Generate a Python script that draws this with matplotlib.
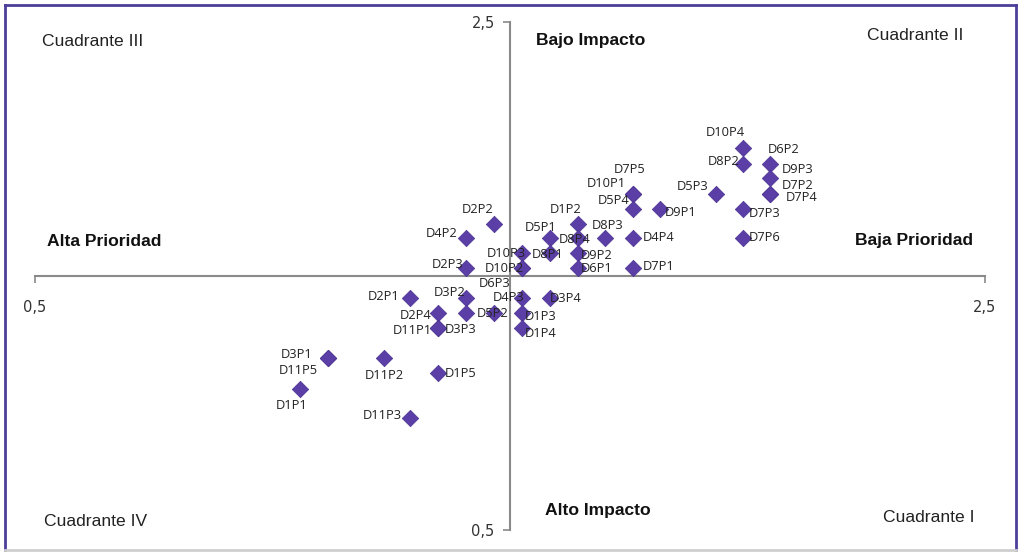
import matplotlib.pyplot as plt
from matplotlib.lines import Line2D

# Datos: etiqueta, prioridad (x), impacto (y)
labels = ['D10P4', 'D8P2', 'D6P2', 'D9P3', 'D7P2', 'D7P4', 'D5P3', 'D7P3', 'D7P6',
          'D7P5', 'D10P1', 'D5P4', 'D9P1', 'D1P2', 'D8P3', 'D4P4', 'D5P1', 'D8P4',
          'D10P3', 'D8P1', 'D9P2', 'D10P2', 'D6P3', 'D6P1', 'D7P1', 'D2P2', 'D4P2',
          'D2P3', 'D2P1', 'D3P2', 'D4P3', 'D3P4', 'D2P4', 'D5P2', '', 'D1P3',
          'D11P1', 'D3P3', 'D1P4', 'D3P1', 'D11P5', 'D11P2', 'D1P5', 'D1P1', 'D11P3']
x_vals = [1.991, 1.991, 2.047, 2.047, 2.047, 2.047, 1.934, 1.991, 1.991,
          1.759, 1.759, 1.759, 1.816, 1.643, 1.700, 1.759, 1.584, 1.643,
          1.525, 1.584, 1.643, 1.525, 1.525, 1.643, 1.759, 1.466, 1.407,
          1.407, 1.289, 1.407, 1.525, 1.584, 1.348, 1.466, 1.407, 1.525,
          1.348, 1.348, 1.525, 1.117, 1.117, 1.235, 1.348, 1.058, 1.289]
y_vals = [2.004, 1.941, 1.941, 1.886, 1.823, 1.823, 1.823, 1.764, 1.650,
          1.823, 1.823, 1.764, 1.764, 1.705, 1.650, 1.650, 1.650, 1.650,
          1.591, 1.591, 1.591, 1.531, 1.531, 1.531, 1.531, 1.705, 1.650,
          1.531, 1.413, 1.413, 1.413, 1.413, 1.354, 1.354, 1.354, 1.354,
          1.295, 1.295, 1.295, 1.177, 1.177, 1.177, 1.118, 1.055, 0.941]

# Ubicacion de cada etiqueta (dx, dy en pixeles, alineacion)
label_pos = {
    'D10P4': (-18, 15, 'center'), 'D8P2': (-4, 2, 'right'), 'D6P2': (-2, 14, 'left'),
    'D9P3': (12, 8, 'left'), 'D7P2': (12, 8, 'left'), 'D7P4': (16, -4, 'left'),
    'D5P3': (-8, 7, 'right'), 'D7P3': (6, -5, 'left'), 'D7P6': (6, 0, 'left'),
    'D7P5': (-3, 24, 'center'), 'D10P1': (-7, 10, 'right'), 'D5P4': (-4, 8, 'right'),
    'D9P1': (5, -4, 'left'), 'D1P2': (4, 14, 'right'), 'D8P3': (3, 12, 'center'),
    'D4P4': (10, 0, 'left'), 'D5P1': (-9, 10, 'center'), 'D8P4': (-19, -2, 'left'),
    'D10P3': (4, -1, 'right'), 'D8P1': (-18, -2, 'left'), 'D9P2': (3, -3, 'left'),
    'D10P2': (2, 0, 'right'), 'D6P3': (-27, -15, 'center'), 'D6P1': (3, 0, 'left'),
    'D7P1': (10, 2, 'left'), 'D2P2': (-16, 14, 'center'), 'D4P2': (-8, 4, 'right'),
    'D2P3': (-2, 4, 'right'), 'D2P1': (-10, 2, 'right'), 'D3P2': (0, 6, 'right'),
    'D4P3': (3, 1, 'right'), 'D3P4': (0, 0, 'left'), 'D2P4': (-6, -2, 'right'),
    'D5P2': (-17, 0, 'left'), 'D1P3': (3, -3, 'left'), 'D11P1': (-6, -2, 'right'),
    'D3P3': (7, -1, 'left'), 'D1P4': (3, -5, 'left'), 'D3P1': (-16, 4, 'right'),
    'D11P5': (-10, -12, 'right'), 'D11P2': (0, -17, 'center'), 'D1P5': (7, 0, 'left'),
    'D1P1': (-8, -16, 'center'), 'D11P3': (-8, 2, 'right'),
}

W, H = 1023, 554
fig = plt.figure(figsize=(W / 100, H / 100), dpi=100)
ax = fig.add_axes([35 / W, 24 / H, 950 / W, 508 / H])

ax.scatter(x_vals, y_vals, marker='D', s=70, color='#5b3fa6', zorder=3,
           edgecolors='#4a3290', linewidths=0.5)

for lab, x, y in zip(labels, x_vals, y_vals):
    if not lab:
        continue
    dx, dy, ha = label_pos[lab]
    ax.annotate(lab, (x, y), xytext=(dx, dy), textcoords='offset pixels',
                ha=ha, va='center', fontsize=9.3, family='Open Sans',
                color='#222222', zorder=4)

ax.set_xlim(0.5, 2.5)
ax.set_ylim(0.5, 2.5)
ax.spines['left'].set_position(('data', 1.5))
ax.spines['bottom'].set_position(('data', 1.5))
ax.spines['top'].set_visible(False)
ax.spines['right'].set_visible(False)
for s in ('left', 'bottom'):
    ax.spines[s].set_color('#8a8a8a')
    ax.spines[s].set_linewidth(1.5)
ax.set_xticks([0.5, 2.5])
ax.set_yticks([0.5, 2.5])
ax.set_xticklabels(['0,5', '2,5'])
ax.set_yticklabels(['0,5', '2,5'])
ax.tick_params(axis='both', length=5, width=1.2, color='#8a8a8a',
               labelsize=10.5, labelcolor='#333333')
ax.tick_params(axis='x', pad=12)
ax.tick_params(axis='y', pad=6)
ax.patch.set_alpha(0)

# Textos de cuadrantes
def ftext(px, py, s, **kw):
    fig.text(px / W, 1 - py / H, s, ha='center', va='center',
             family='Liberation Sans', **kw)

ftext(93, 42, 'Cuadrante III', fontsize=12.6, color='#222222')
ftext(915, 36, 'Cuadrante II', fontsize=12.6, color='#222222')
ftext(96, 521, 'Cuadrante IV', fontsize=12.6, color='#222222')
ftext(929, 518, 'Cuadrante I', fontsize=12.6, color='#222222')
ftext(591, 41, 'Bajo Impacto', fontsize=12.6, fontweight='bold', color='#111111')
ftext(598, 511, 'Alto Impacto', fontsize=12.6, fontweight='bold', color='#111111')
ftext(104, 241, 'Alta Prioridad', fontsize=12.6, fontweight='bold', color='#111111')
ftext(914, 241, 'Baja Prioridad', fontsize=12.6, fontweight='bold', color='#111111')

# Marco
bc = '#4b3f9a'
fig.add_artist(Line2D([5 / W, 1016 / W], [1 - 5 / H, 1 - 5 / H], color=bc, lw=2))
fig.add_artist(Line2D([5 / W, 5 / W], [1 - 5 / H, 1 - 550 / H], color=bc, lw=2))
fig.add_artist(Line2D([1016 / W, 1016 / W], [1 - 5 / H, 1 - 550 / H], color=bc, lw=2))
fig.add_artist(Line2D([5 / W, 1016 / W], [1 - 550 / H, 1 - 550 / H], color='#cfcfcf', lw=2))

fig.savefig('out.png', dpi=100)
